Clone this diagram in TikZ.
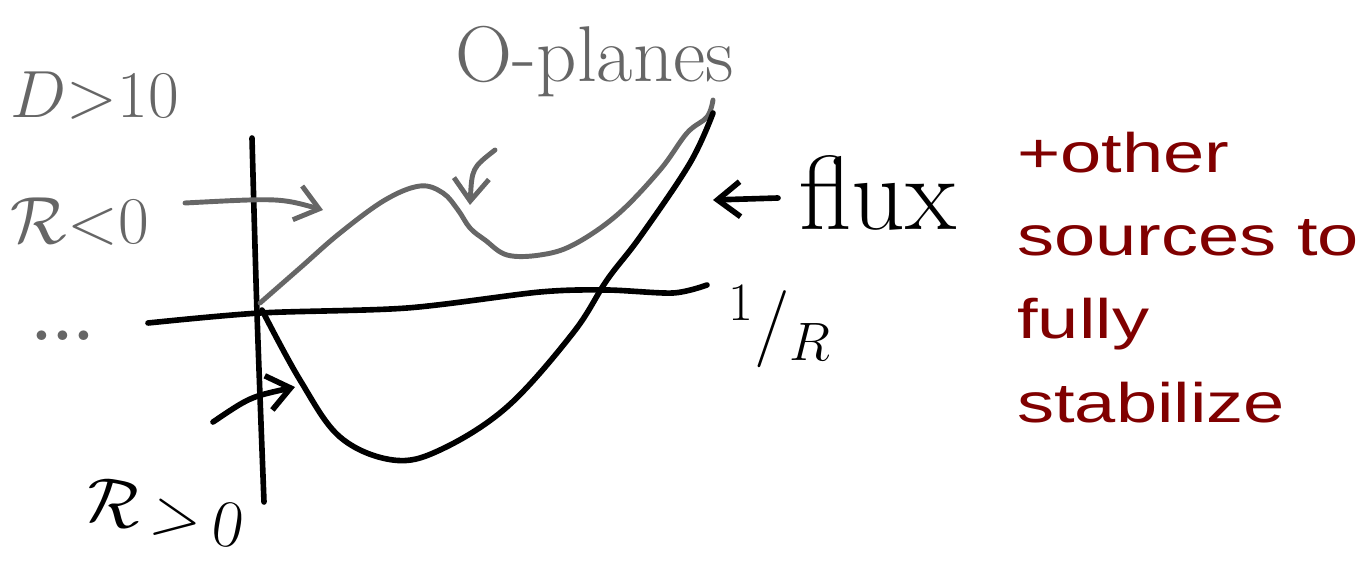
\RequirePackage{fix-cm}
\documentclass[tikz,border=0pt]{standalone}
\usepackage{fontspec}
\newfontfamily\notefont[FakeStretch=1.33]{Liberation Sans}
\usetikzlibrary{arrows.meta}
\definecolor{noteRed}{RGB}{128,0,0}

\begin{document}
\begin{tikzpicture}[
  x=0.02cm, y=-0.02cm,
  ink/.style={draw=black, line width=3.2pt, line cap=round, line join=round},
  pencil/.style={ink, draw=black!60, line width=2.8pt},
  hand/.style={font=\fontsize{38}{42}\selectfont, inner sep=0pt},
  grayhand/.style={hand, text=black!60},
  barb/.style={-{Straight Barb[length=4.5mm,width=7mm]}},
  note/.style={font=\notefont\fontsize{31.7}{47.3}\selectfont, text=noteRed,
               align=left, inner sep=0pt, anchor=north west}
]
\useasboundingbox (0,0) rectangle (1370,571);

% axes
\draw[ink] plot[smooth] coordinates {(252,138) (257,313) (264,502)};
\draw[ink] plot[smooth] coordinates {(148,323) (260,313) (407,308) (540,292)
  (607,290) (673,293) (707,285)};

% potentials
\draw[pencil] plot[smooth, tension=0.6] coordinates {(260,303) (300,268)
  (340,233) (385,200) (420,186) (443,193) (458,210) (470,228) (485,240)
  (507,255) (540,255) (573,245) (617,215) (660,170) (687,133) (707,117)
  (713,100)};
\draw[ink] plot[smooth, tension=0.6] coordinates {(262,310) (300,380)
  (340,437) (393,460) (440,450) (507,407) (573,333) (607,280) (640,237)
  (690,163) (713,113)};

% labels
\node[grayhand] (dim)    at (95,96)   {$D{>}10$};
\node[grayhand] (rneg)   at (80,222)  {$\mathcal{R}{<}0$};
\node[grayhand] (dots)   at (63,336)  {\bfseries ...};
\node[hand, font=\fontsize{45}{50}\selectfont, text=black!60] (oplane) at (595,62) {O-planes};
\node[hand, font=\fontsize{60}{64}\selectfont] (flux) at (878,193) {flux};
\node[hand, font=\fontsize{44}{48}\selectfont] (invR) at (780,327) {$^{1}/_{R}$};
\node[hand, rotate=-10] (rpos) at (165,513) {$\mathcal{R}\,{>}\,0$};
\node[note] (other) at (1017,132) {+other\\sources to\\fully\\stabilize};

% pointers
\coordinate (rnegFrom)  at (185,203);
\coordinate (rnegTo)    at (323,210);
\coordinate (oplaneFrom) at (495,150);
\coordinate (oplaneTo)  at (470,205);
\coordinate (fluxFrom)  at (778,198);
\coordinate (fluxTo)    at (713,200);
\coordinate (rposFrom)  at (213,422);
\coordinate (rposTo)    at (295,387);
\draw[pencil, barb] (rnegFrom) .. controls (280,198) .. (rnegTo);
\draw[pencil, barb] (oplaneFrom) .. controls (472,168) .. (oplaneTo);
\draw[ink, barb] (fluxFrom) -- (fluxTo);
\draw[ink, barb] (rposFrom) .. controls (250,397) .. (rposTo);
\end{tikzpicture}
\end{document}
